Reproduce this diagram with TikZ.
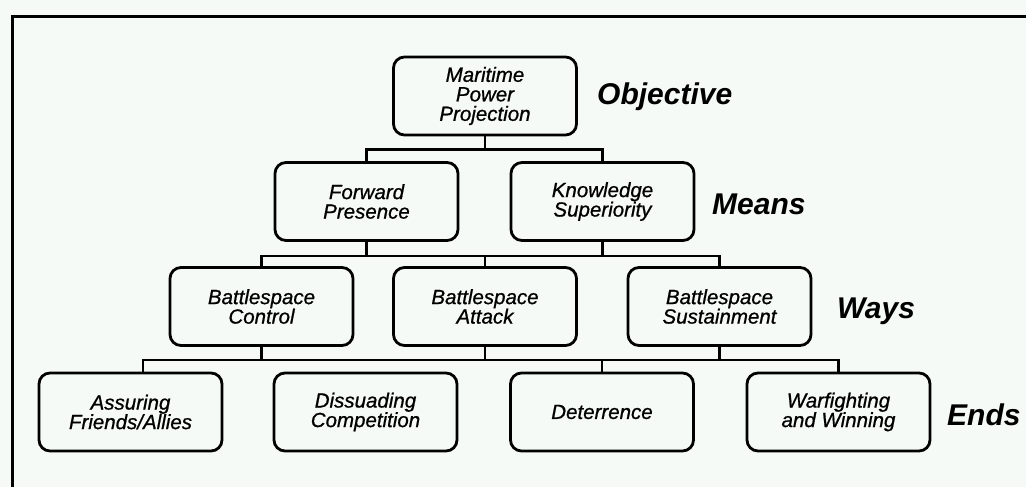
\documentclass[tikz,border=0pt]{standalone}
\usepackage{fontspec}
\setmainfont{Liberation Sans}
\newfontface\boxfont{Liberation Sans Italic}[FakeBold=0.8]
\usetikzlibrary{calc}
\definecolor{paper}{RGB}{246,250,247}

\begin{document}
\begin{tikzpicture}[x=1pt, y=-1pt,
    box/.style={draw, line width=2.8pt, rounded corners=11pt, minimum width=183pt, minimum height=78pt,
        inner sep=0pt, align=center, font=\fontsize{20.5}{19.5}\boxfont},
    tier/.style={anchor=base west, inner sep=0pt, font=\fontsize{30}{30}\selectfont\bfseries\itshape},
    link/.style={line width=2.8pt}]
    % Page and frame
    \fill[paper] (0,0) rectangle (1026,487);
    \useasboundingbox (0,0) rectangle (1026,487);
    \draw[line width=3.3pt] (12.3,487) -- (12.3,16.7) -- (1026,16.7);

    % Objective
    \node[box] (maritime) at (485,96) {Maritime\\Power\\Projection};

    % Means
    \node[box] (forward) at (366.5,201.5) {Forward\\Presence};
    \node[box] (knowledge) at (602.5,201.5) {Knowledge\\Superiority};

    % Ways
    \node[box] (control) at (261.5,306.5) {Battlespace\\Control};
    \node[box] (attack) at (485,306.5) {Battlespace\\Attack};
    \node[box] (sustain) at (719.5,306.5) {Battlespace\\Sustainment};

    % Ends
    \node[box] (assuring) at (130.5,412) {Assuring\\Friends/Allies};
    \node[box] (dissuading) at (365.5,412) {Dissuading\\Competition};
    \node[box] (deterrence) at (602,412) {Deterrence};
    \node[box] (warfighting) at (838.5,412) {Warfighting\\and Winning};

    % Tier labels
    \node[tier] (objective) at (597,105) {Objective};
    \node[tier] (means) at (712,214) {Means};
    \node[tier] (ways) at (837,318) {Ways};
    \node[tier] (ends) at (947,425) {Ends};

    % Objective to means
    \draw[link] (maritime.south) -- ++(0,13);
    \draw[link] (forward.north) |- ($(maritime.south)+(0,13)$) -| (knowledge.north);

    % Means to ways
    \draw[link] (forward.south) -- ++(0,14);
    \draw[link] (knowledge.south) -- ++(0,14);
    \draw[link] (control.north) |- ($(forward.south)+(0,14)$) -| (sustain.north);
    \draw[link] (attack.north) -- ++(0,-11);

    % Ways to ends
    \draw[link] (control.south) -- ++(0,13);
    \draw[link] (attack.south) -- ++(0,13);
    \draw[link] (sustain.south) -- ++(0,13);
    \draw[link] ([xshift=12.5pt]assuring.north) |- ($(control.south)+(0,13)$) -| (warfighting.north);
    \draw[link] (deterrence.north) -- ++(0,-12);
\end{tikzpicture}
\end{document}
